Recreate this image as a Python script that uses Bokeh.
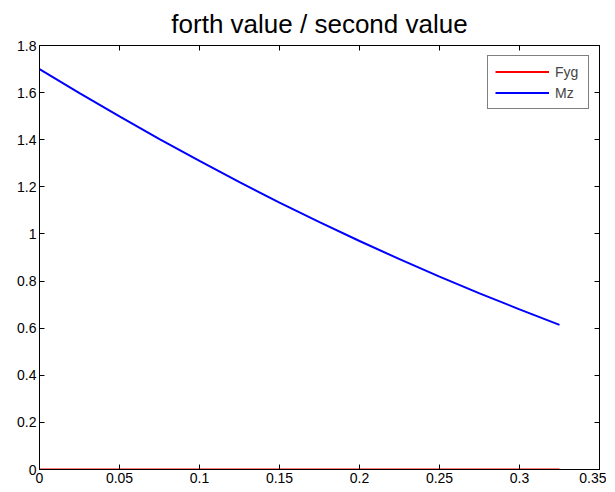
from bokeh.plotting import figure
from bokeh.models import LinearAxis, Range1d, FixedTicker, Legend, LegendItem
from bokeh.embed import file_html
from bokeh.resources import INLINE

# data
x_vals = [0.0, 0.025, 0.05, 0.075, 0.1, 0.125, 0.15, 0.175, 0.2, 0.225, 0.25, 0.275, 0.3, 0.325]
mz_vals = [1.700, 1.598, 1.499, 1.403, 1.310, 1.220, 1.133, 1.050, 0.970, 0.893, 0.819, 0.748, 0.680, 0.614]
fyg_vals = [0.0] * len(x_vals)

x_ticks = [0, 0.05, 0.1, 0.15, 0.2, 0.25, 0.3, 0.35]
x_tick_labels = ["0", "0.05", "0.1", "0.15", "0.2", "0.25", "0.3", "0.35"]
y_ticks = [0, 0.2, 0.4, 0.6, 0.8, 1.0, 1.2, 1.4, 1.6, 1.8]
y_tick_labels = ["0", "0.2", "0.4", "0.6", "0.8", "1", "1.2", "1.4", "1.6", "1.8"]

title_text = "forth value / second value"
series_names = ["Fyg", "Mz"]

FONT = "Liberation Sans"

p = figure(frame_width=560, frame_height=424, output_backend="svg", toolbar_location=None,
           x_range=Range1d(0, 0.35), y_range=Range1d(0, 1.8),
           x_axis_type=None, y_axis_type=None,
           min_border_left=39, min_border_right=7, min_border_top=45, min_border_bottom=21)

p.title.text = title_text
p.title.align = "center"
p.title.text_font = FONT
p.title.text_font_size = "26px"
p.title.text_font_style = "normal"
p.title.text_color = "black"
p.title.standoff = 13

p.xgrid.visible = False
p.ygrid.visible = False
p.outline_line_color = "black"
p.outline_line_width = 1
p.background_fill_color = "white"
p.border_fill_color = "white"


def make_axis(ticks, labels, show_labels):
    ax = LinearAxis(ticker=FixedTicker(ticks=ticks, minor_ticks=[]))
    if show_labels:
        ax.major_label_overrides = {t: l for t, l in zip(ticks, labels)}
    else:
        ax.major_label_overrides = {t: "" for t in ticks}
    ax.axis_line_color = "black"
    ax.major_tick_line_color = "black"
    ax.major_tick_in = 5
    ax.major_tick_out = 0
    ax.minor_tick_line_color = None
    ax.major_label_text_font = FONT
    ax.major_label_text_font_size = "14px"
    ax.major_label_text_color = "black"
    ax.major_label_standoff = 3 if show_labels else 0
    return ax


p.add_layout(make_axis(x_ticks, x_tick_labels, True), "below")
p.add_layout(make_axis(y_ticks, y_tick_labels, True), "left")
p.add_layout(make_axis(x_ticks, x_tick_labels, False), "above")
p.add_layout(make_axis(y_ticks, y_tick_labels, False), "right")

r1 = p.line(x_vals, fyg_vals, line_color="#ff0000", line_width=2)
r2 = p.line(x_vals, mz_vals, line_color="#0000ff", line_width=2)

legend = Legend(items=[LegendItem(label=series_names[0], renderers=[r1]),
                       LegendItem(label=series_names[1], renderers=[r2])],
                location="top_right")
legend.border_line_color = "black"
legend.border_line_width = 1
legend.background_fill_alpha = 1
legend.label_text_font = FONT
legend.label_text_font_size = "14px"
legend.glyph_width = 54
legend.glyph_height = 17
legend.label_height = 17
legend.label_width = 26
legend.label_standoff = 6
legend.padding = 7
legend.spacing = 4
legend.margin = 10
p.add_layout(legend, "center")

open("out.html", "w").write(file_html(p, INLINE))
